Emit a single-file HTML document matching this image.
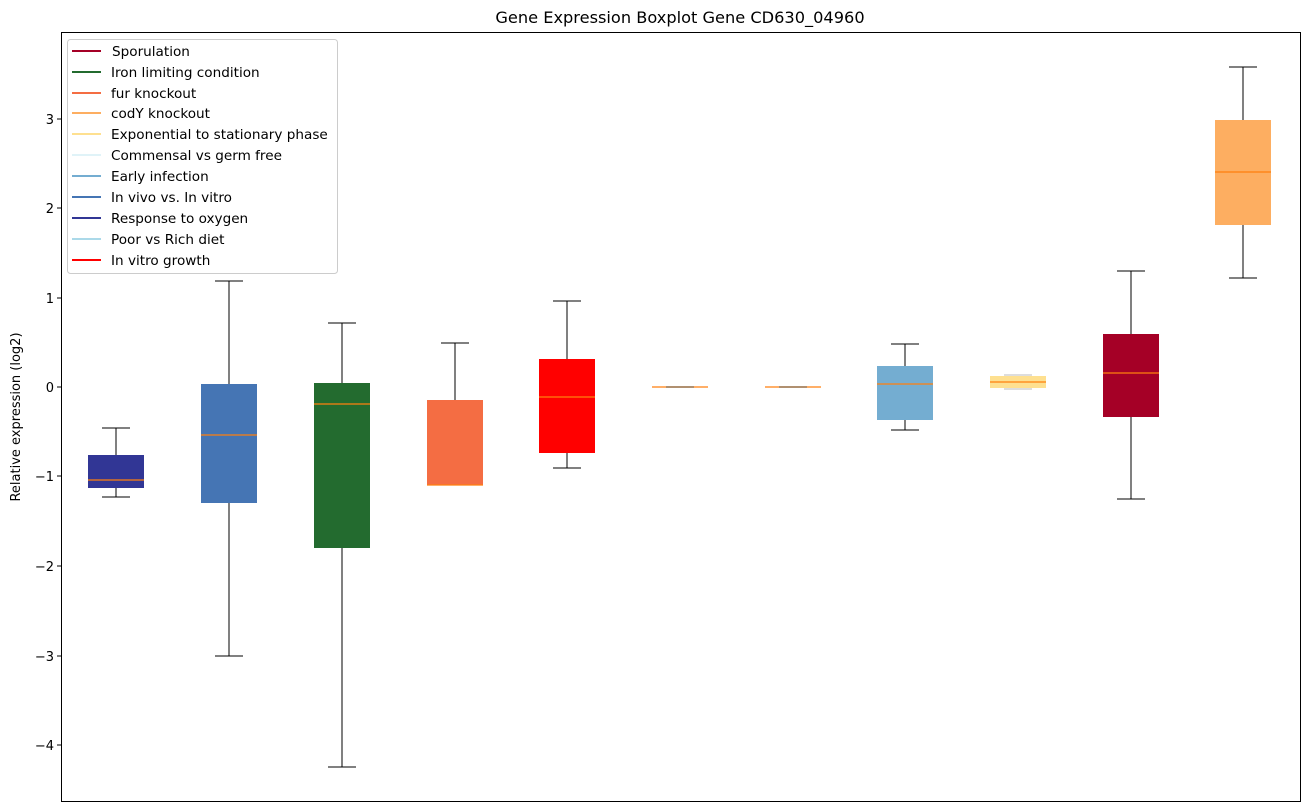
<!DOCTYPE html>
<html><head><meta charset="utf-8"><style>body{margin:0;background:#fff}svg{display:block;font-family:"DejaVu Sans","Liberation Sans",sans-serif}</style></head><body>
<svg width="1309" height="812" xmlns="http://www.w3.org/2000/svg">
<rect width="1309" height="812" fill="#fff"/>
<text x="680" y="23" font-size="16.2" text-anchor="middle" fill="#000">Gene Expression Boxplot Gene CD630_04960</text>
<g stroke="#000" stroke-width="1" fill="none">
<path d="M116,428V455M116,488V497M102,428H130M102,497H130"/>
<path d="M229,281V384M229,503V656M215,281H243M215,656H243"/>
<path d="M342,323V383M342,548V767M328,323H356M328,767H356"/>
<path d="M455,343V400M441,343H469M441,485H469"/>
<path d="M567,301V359M567,453V468M553,301H581M553,468H581"/>
<path d="M905,344V366M905,420V430M891,344H919M891,430H919"/>
<path d="M1131,271V334M1131,417V499M1117,271H1145M1117,499H1145"/>
<path d="M1243,67V120M1243,225V278M1229,67H1257M1229,278H1257"/>
</g>
<g>
<rect x="88" y="455" width="56" height="33" fill="#313695"/>
<rect x="201" y="384" width="56" height="119" fill="#4575b4"/>
<rect x="314" y="383" width="56" height="165" fill="#236b2f"/>
<rect x="427" y="400" width="56" height="85" fill="#f46d43"/>
<rect x="539" y="359" width="56" height="94" fill="#ff0000"/>
<rect x="877" y="366" width="56" height="54" fill="#74add1"/>
<rect x="990" y="376" width="56" height="12" fill="#fee090"/>
<rect x="1103" y="334" width="56" height="83" fill="#a50026"/>
<rect x="1215" y="120" width="56" height="105" fill="#fdae61"/>
</g>
<g stroke="#ff7f0e" stroke-width="1.2">
<path d="M88,480H144M201,435H257M314,404H370M427,485H483M539,397H595M652,387H708M765,387H821M877,384H933M990,382H1046M1103,373H1159M1215,172H1271"/>
</g>
<g stroke="#b09070" stroke-width="2"><path d="M666,387H694M779,387H807"/></g>
<g stroke="#bbb"><path d="M1004,375H1032M1004,389H1032"/></g>
<rect x="61.5" y="32.5" width="1239" height="769" fill="none" stroke="#000"/>
<g font-size="13" fill="#000" text-anchor="end">
<path d="M61,119h-4M61,208h-4M61,298h-4M61,387h-4M61,476h-4M61,566h-4M61,656h-4M61,745h-4" stroke="#000"/>
<text x="54" y="124">3</text><text x="54" y="213">2</text><text x="54" y="303">1</text><text x="54" y="392">0</text>
<text x="54" y="481">−1</text><text x="54" y="571">−2</text><text x="54" y="661">−3</text><text x="54" y="750">−4</text>
</g>
<text transform="translate(20,417) rotate(-90)" font-size="13" text-anchor="middle">Relative expression (log2)</text>
<rect x="67.5" y="39.5" width="270" height="234" rx="3" fill="#fff" fill-opacity="0.8" stroke="#ccc"/>
<g stroke-width="2">
<line x1="72" x2="101" y1="51" y2="51" stroke="#a50026"/>
<line x1="72" x2="101" y1="72" y2="72" stroke="#236b2f"/>
<line x1="72" x2="101" y1="93" y2="93" stroke="#f46d43"/>
<line x1="72" x2="101" y1="113" y2="113" stroke="#fdae61"/>
<line x1="72" x2="101" y1="134" y2="134" stroke="#fee090"/>
<line x1="72" x2="101" y1="155" y2="155" stroke="#e0f3f8"/>
<line x1="72" x2="101" y1="176" y2="176" stroke="#74add1"/>
<line x1="72" x2="101" y1="197" y2="197" stroke="#4575b4"/>
<line x1="72" x2="101" y1="218" y2="218" stroke="#313695"/>
<line x1="72" x2="101" y1="239" y2="239" stroke="#abd9e9"/>
<line x1="72" x2="101" y1="260" y2="260" stroke="#ff0000"/>
</g>
<g font-size="13.6" fill="#000">
<text x="112" y="56">Sporulation</text>
<text x="111" y="77">Iron limiting condition</text>
<text x="111" y="98">fur knockout</text>
<text x="111" y="118">codY knockout</text>
<text x="111" y="139">Exponential to stationary phase</text>
<text x="111" y="160">Commensal vs germ free</text>
<text x="111" y="181">Early infection</text>
<text x="111" y="202">In vivo vs. In vitro</text>
<text x="111" y="223">Response to oxygen</text>
<text x="111" y="244">Poor vs Rich diet</text>
<text x="111" y="265">In vitro growth</text>
</g>
</svg>
</body></html>
